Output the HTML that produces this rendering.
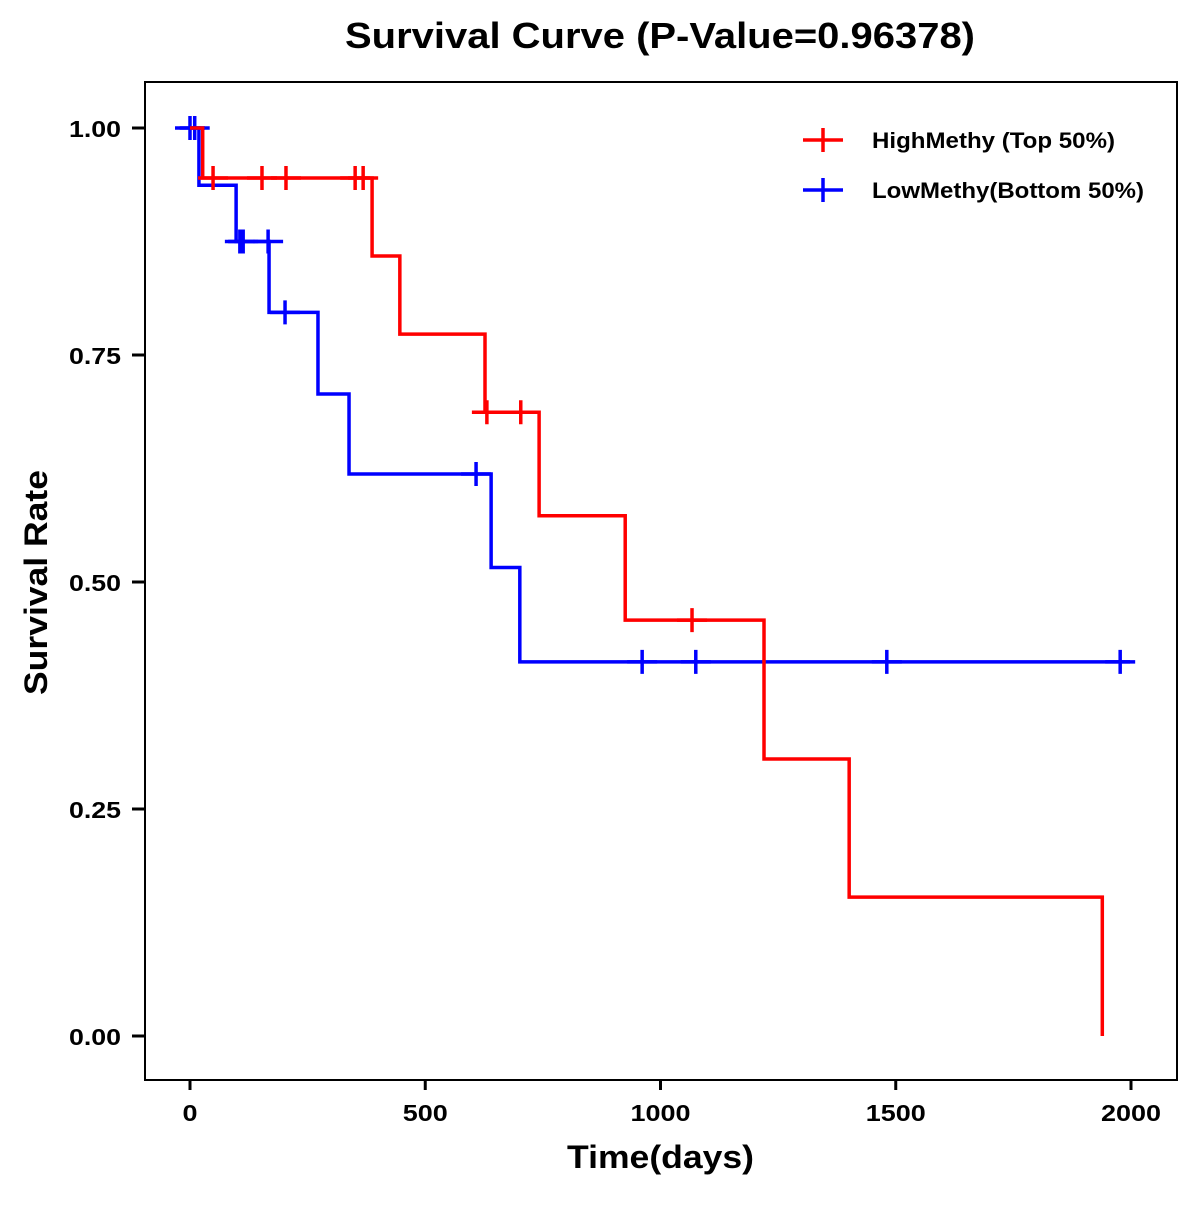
<!DOCTYPE html>
<html><head><meta charset="utf-8"><style>
body{margin:0;background:#fff;}
svg text{font-family:"Liberation Sans",Arial,sans-serif;font-weight:bold;}
</style></head><body>
<svg id="chart" width="1200" height="1200" viewBox="0 0 1200 1200">
<text x="345" y="48" font-size="36" textLength="630" lengthAdjust="spacingAndGlyphs">Survival Curve (P-Value=0.96378)</text>
<rect x="145" y="82" width="1032" height="998" fill="none" stroke="#000" stroke-width="2"/>
<g id="axes"></g>
<g id="series"></g>
<text x="567" y="1168" font-size="32" textLength="187" lengthAdjust="spacingAndGlyphs">Time(days)</text>
<text transform="translate(47,695) rotate(-90)" font-size="32" textLength="225" lengthAdjust="spacingAndGlyphs">Survival Rate</text>
<g>
<g>
<line x1="803" y1="140" x2="843" y2="140" stroke="#f00" stroke-width="3.5"/>
<line x1="823" y1="128" x2="823" y2="152" stroke="#f00" stroke-width="3.5"/>
<text x="872" y="148" font-size="22" textLength="243" lengthAdjust="spacingAndGlyphs">HighMethy (Top 50%)</text>
</g>
<g>
<line x1="803" y1="190" x2="843" y2="190" stroke="#00f" stroke-width="3.5"/>
<line x1="823" y1="178" x2="823" y2="202" stroke="#00f" stroke-width="3.5"/>
<text x="872" y="198" font-size="22" textLength="272" lengthAdjust="spacingAndGlyphs">LowMethy(Bottom 50%)</text>
</g>
</g>
</svg>
<script>
const xTicks=[0,500,1000,1500,2000];
const yTicks=[0,0.25,0.5,0.75,1.0];
const yTickLabels=["0.00","0.25","0.50","0.75","1.00"];
const highTimes=[0,27,387,446,627,742,925,1220,1401,1939];
const highSurv=[1.0,0.945,0.859,0.773,0.687,0.573,0.458,0.305,0.153,0.0];
const highEnd=1939;
const highCensor=[49,153,204,351,368,631,703,1067];
const lowTimes=[0,19,98,168,272,338,640,701];
const lowSurv=[1.0,0.937,0.875,0.797,0.707,0.619,0.516,0.412];
const lowEnd=1998;
const lowCensor=[0,10,106,113,166,202,608,961,1075,1481,1977];

const NS="http://www.w3.org/2000/svg";
const X=d=>190+d*(1131-190)/2000;
const Y=v=>1036-v*908;
function mk(tag,attrs,parent){const e=document.createElementNS(NS,tag);for(const k in attrs)e.setAttribute(k,attrs[k]);parent.appendChild(e);return e;}
const axes=document.getElementById('axes');
xTicks.forEach(t=>{
  const l=mk('line',{x1:X(t),x2:X(t),y1:1080,y2:1090,stroke:'#000','stroke-width':3},axes);
  
  
  const s=String(t);
  const tx=mk('text',{x:X(t),y:1121,'font-size':23,'text-anchor':'middle',textLength:s.length*15,lengthAdjust:'spacingAndGlyphs'},axes);
  tx.textContent=s;
  
  
});
yTicks.forEach((t,i)=>{
  const l=mk('line',{x1:132,x2:145,y1:Y(t),y2:Y(t),stroke:'#000','stroke-width':3},axes);
  
  
  const tx=mk('text',{x:69,y:Y(t)+9,'font-size':23,textLength:52,lengthAdjust:'spacingAndGlyphs'},axes);
  tx.textContent=yTickLabels[i];
  
  
});
const series=document.getElementById('series');
function survAt(times,surv,t){let s=surv[0];for(let i=0;i<times.length;i++){if(times[i]<=t)s=surv[i];}return s;}
function draw(times,surv,end,cens,color,name){
  const g=mk('g',{},series);
  
  
  let d='M'+X(times[0])+','+Y(surv[0]);
  for(let i=1;i<times.length;i++){d+=' H'+X(times[i])+' V'+Y(surv[i]);}
  d+=' H'+X(end);
  const p=mk('path',{d:d,fill:'none',stroke:color,'stroke-width':3.5},g);
  
  
  cens.forEach(c=>{
    const s=survAt(times,surv,c);
    const m=mk('path',{d:'M'+(X(c)-15)+','+Y(s)+' h30 M'+X(c)+','+(Y(s)-12)+' v24',stroke:color,'stroke-width':3.5,fill:'none'},g);
    
    
  });
}
draw(lowTimes,lowSurv,lowEnd,lowCensor,'#00f','low-methy');
draw(highTimes,highSurv,highEnd,highCensor,'#f00','high-methy');
</script>
</body></html>
